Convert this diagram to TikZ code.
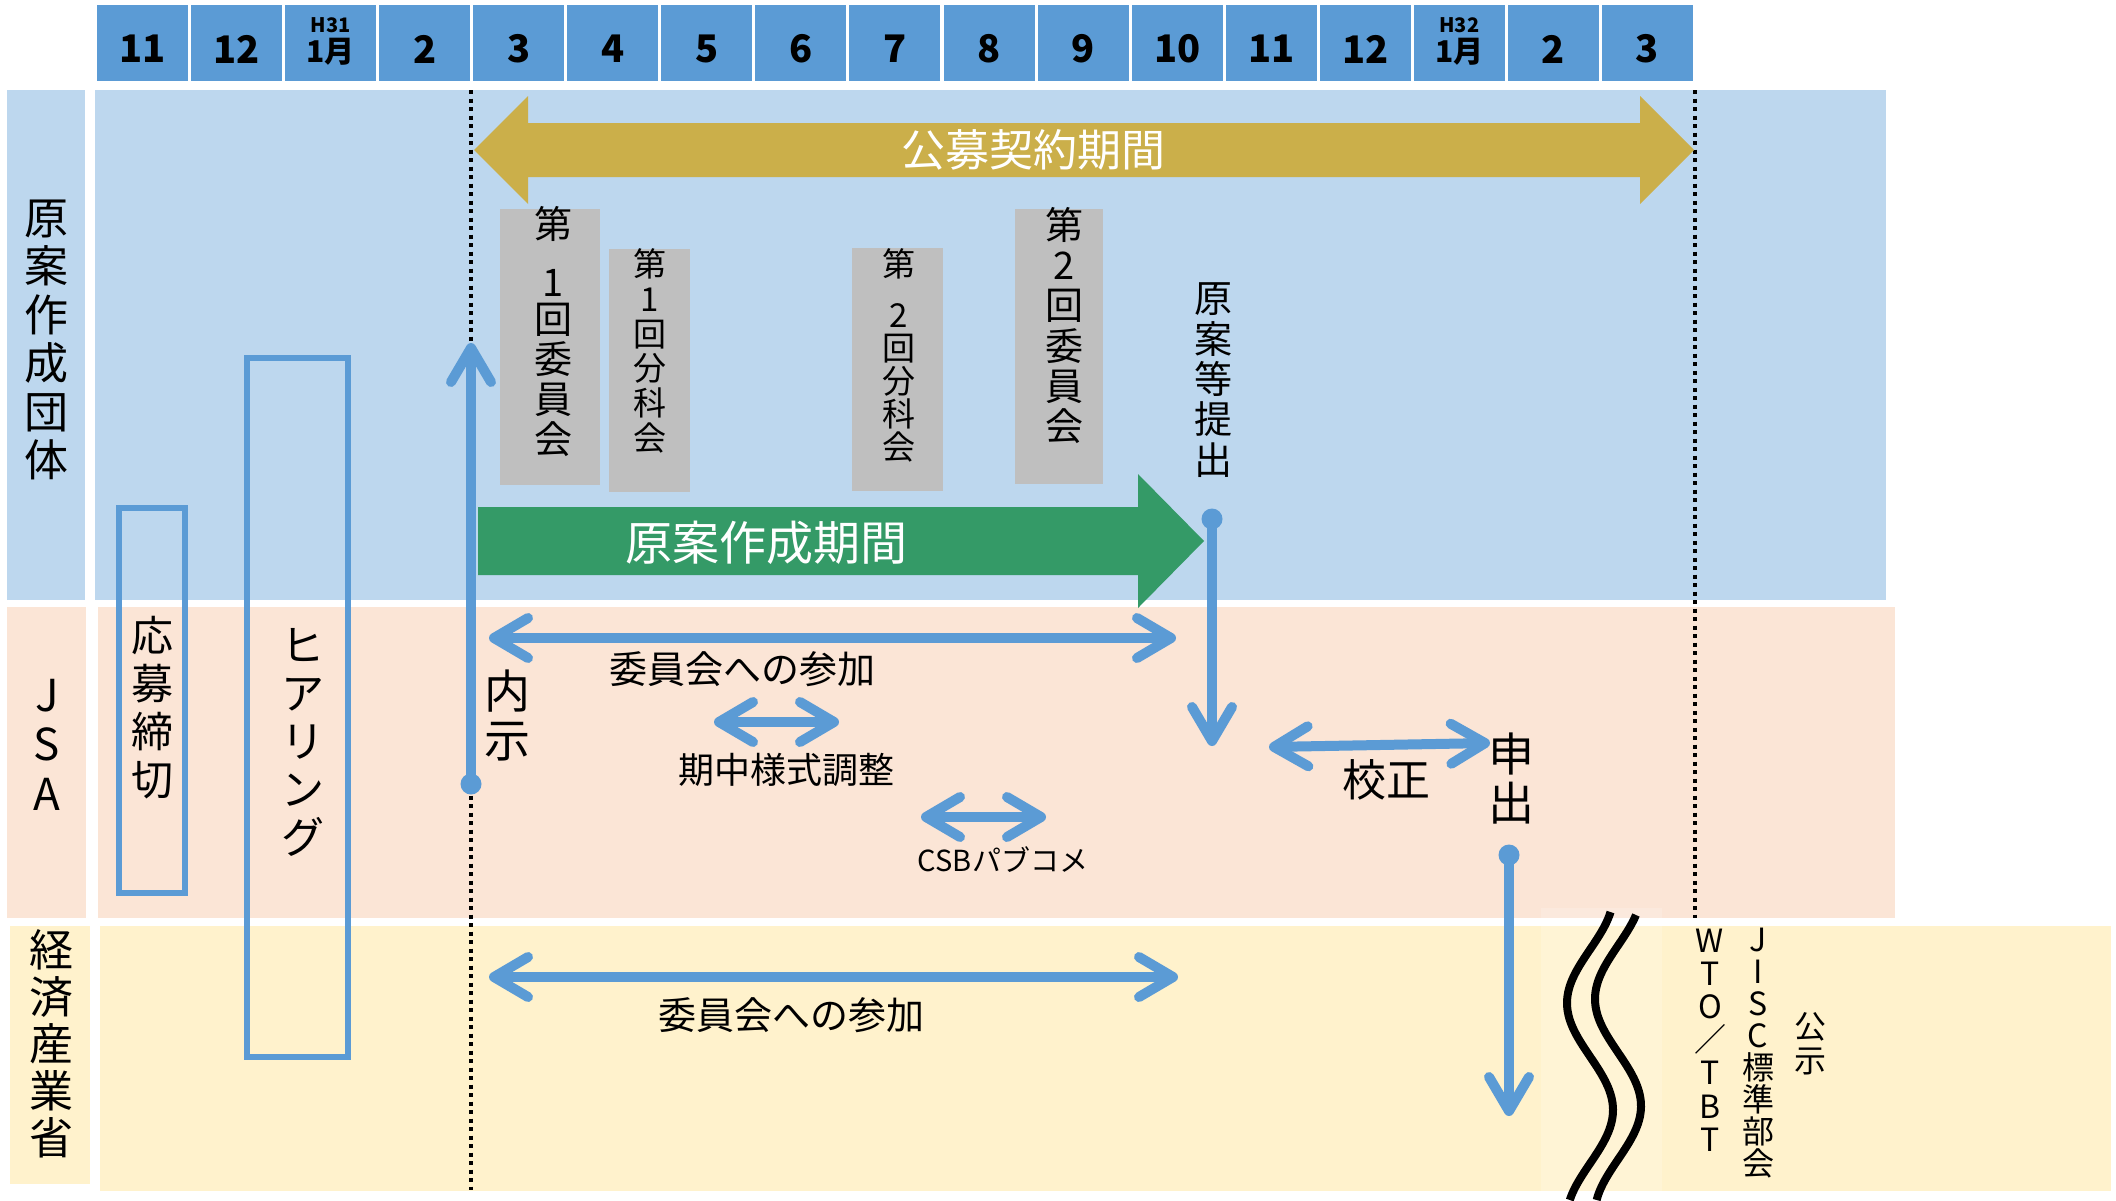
\documentclass[tikz,border=0pt]{standalone}
\usepackage{fontspec}
\setmainfont{Noto Sans CJK JP}
\usetikzlibrary{arrows.meta}
\definecolor{hdr}{HTML}{5B9BD5}
\definecolor{laneblue}{HTML}{BDD7EE}
\definecolor{lanepeach}{HTML}{FBE5D6}
\definecolor{laneyellow}{HTML}{FFF2CC}
\definecolor{boxgray}{HTML}{BFBFBF}
\definecolor{gold}{HTML}{CBAF4A}
\definecolor{grn}{HTML}{349A67}
\definecolor{lineblue}{HTML}{5B9BD5}
\begin{document}
\begin{tikzpicture}[x=1pt,y=-1pt,
  fs/.style 2 args={font=\fontsize{#1}{#2}\selectfont},
  vt/.style={align=center, inner sep=0pt, outer sep=0pt, text=black},
  lbl/.style={inner sep=0pt, outer sep=0pt, text=black},
  hdrcell/.style={fill=hdr, minimum width=91pt, minimum height=76pt, inner sep=0pt, rectangle},
  hdrnum/.style={font=\fontsize{38}{38}\selectfont\bfseries, inner sep=0pt, text=black},
  graybox/.style={fill=boxgray, inner sep=0pt, rectangle},
  bluebox/.style={draw=lineblue, line width=6pt, inner sep=0pt, rectangle},
  tipA/.tip={Straight Barb[length=34pt,width=40pt,round]},
  blueline/.style={draw=lineblue, line width=10pt},
  onearrow/.style={blueline, -tipA},
  twoarrow/.style={blueline, tipA-tipA},
  dotline/.style={black, line width=4pt, dash pattern=on 4pt off 4.5pt},
]
\useasboundingbox (0,0) rectangle (2116,1200);

% lanes
\fill[laneblue] (7,90) rectangle (85,600);
\fill[laneblue] (95,90) rectangle (1886,600);
\fill[lanepeach] (7,607) rectangle (86,918);
\fill[lanepeach] (98,607) rectangle (1895,918);
\fill[laneyellow] (10,926) rectangle (90,1184);
\fill[laneyellow] (100,926) rectangle (2111,1191);

% header
\foreach \i/\lab in {0/11,1/12,3/2,4/3,5/4,6/5,7/6,8/7,9/8,10/9,11/10,12/11,13/12,15/2,16/3} {
  \node[hdrcell] (m\i) at ({142.5+94.06*\i},43) {};
  \node[hdrnum] (t\i) at ([yshift=-6pt]m\i.center) {\lab};
}
\node[hdrcell] (m2) at ({142.5+94.06*2},43) {};
\node[lbl, font=\fontsize{20}{20}\selectfont\bfseries] (h2) at ([yshift=18pt]m2.center) {H31};
\node[lbl, font=\fontsize{30}{30}\selectfont\bfseries] (j2) at ([yshift=-9pt]m2.center) {1月};
\node[hdrcell] (m14) at ({142.5+94.06*14},43) {};
\node[lbl, font=\fontsize{20}{20}\selectfont\bfseries] (h14) at ([yshift=18pt]m14.center) {H32};
\node[lbl, font=\fontsize{30}{30}\selectfont\bfseries] (j14) at ([yshift=-9pt]m14.center) {1月};

% dotted lines
\draw[dotline] (471,90) -- (471,1190);
\draw[dotline] (1695,90) -- (1695,918);

% gold double arrow
\fill[gold] (474,150) -- (528,96) -- (528,123) -- (1640,123) -- (1640,96) -- (1694,150)
  -- (1640,204) -- (1640,177) -- (528,177) -- (528,204) -- cycle;
\node[lbl, fs={44}{44}, text=white] (kobo) at (1033,150) {公募契約期間};

% gray boxes
\node[graybox, minimum width=100pt, minimum height=276pt] (g1) at (550,347) {};
\node[vt, fs={38}{40}] (g1t) at (553,332) {第\\[18pt]1\\[-3pt]回\\委\\員\\会};
\node[graybox, minimum width=81pt, minimum height=243pt] (g2) at (649.5,370.5) {};
\node[vt, fs={33}{34.8}] (g2t) at (650,351) {第\\1\\回\\分\\科\\会};
\node[graybox, minimum width=91pt, minimum height=243pt] (g3) at (897.5,369.5) {};
\node[vt, fs={33}{33}] (g3t) at (899,355) {第\\[18pt]2\\回\\分\\科\\会};
\node[graybox, minimum width=88pt, minimum height=275pt] (g4) at (1059,346.5) {};
\node[vt, fs={38}{40.2}] (g4t) at (1064,325.5) {第\\2\\回\\委\\員\\会};

\node[vt, fs={38}{40.3}] (teishutsu) at (1213,380) {原\\案\\等\\提\\出};

% green arrow
\fill[grn] (478,507) -- (1138,507) -- (1138,474) -- (1204,541) -- (1138,608) -- (1138,575) -- (478,575) -- cycle;
\node[lbl, fs={47}{47}, text=white] (gensaku) at (766,543) {原案作成期間};

% blue outline boxes
\node[bluebox, minimum width=66pt, minimum height=385pt] (oubo) at (152,700.5) {};
\node[vt, fs={42}{48}] (oubot) at (152,708) {応\\募\\締\\切};
\node[bluebox, minimum width=101pt, minimum height=699pt] (hear) at (297.5,707.5) {};
\node[vt, fs={43}{48}] (heart) at (303,742) {ヒ\\ア\\リ\\ン\\グ};

% lane labels
\node[vt, fs={44}{48.4}] (lab1) at (46,340) {原\\案\\作\\成\\団\\体};
\node[vt, fs={44}{49.5}] (lab2) at (47,744.5) {J\\S\\A};
\node[vt, fs={44}{47}] (lab3) at (51,1044) {経\\済\\産\\業\\省};

% coordinates for connectors
\coordinate (naijiDot) at (471,784);
\coordinate (naijiTip) at (471,343);
\coordinate (teiDot) at (1212,519);
\coordinate (teiTip) at (1212,746);
\coordinate (mouDot) at (1509,855);
\coordinate (mouTip) at (1509,1116);
\coordinate (a1L) at (489,638);
\coordinate (a1R) at (1176,638);
\coordinate (a2L) at (714,722);
\coordinate (a2R) at (839,722);
\coordinate (a3L) at (921,817);
\coordinate (a3R) at (1046,817);
\coordinate (a4L) at (1269,747);
\coordinate (a4R) at (1490,743);
\coordinate (a5L) at (489,977);
\coordinate (a5R) at (1178,977);

% arrows
\draw[onearrow] (naijiDot) -- (naijiTip);
\fill[lineblue] (naijiDot) circle (10.5pt);
\draw[onearrow] (teiDot) -- (teiTip);
\fill[lineblue] (teiDot) circle (10.5pt);
\draw[onearrow] (mouDot) -- (mouTip);
\fill[lineblue] (mouDot) circle (10.5pt);
\draw[twoarrow] (a1L) -- (a1R);
\draw[twoarrow] (a2L) -- (a2R);
\draw[twoarrow] (a3L) -- (a3R);
\draw[twoarrow] (a4L) -- (a4R);
\draw[twoarrow] (a5L) -- (a5R);

% JSA / METI texts
\node[vt, fs={46}{49}] (naiji) at (507,715.5) {内\\示};
\node[lbl, fs={38}{38}] (sanka1) at (742,669) {委員会への参加};
\node[lbl, fs={36}{36}] (kichu) at (786,770) {期中様式調整};
\node[lbl, fs={29}{29}] (csb) at (1003,860) {CSBパブコメ};
\node[lbl, fs={44}{44}] (kousei) at (1386,780) {校正};
\node[vt, fs={46}{49}] (moushide) at (1511,778.5) {申\\出};
\node[lbl, fs={38}{38}] (sanka2) at (791,1015) {委員会への参加};

% wave break
\fill[white, opacity=0.18] (1541,908) rectangle (1662,1200);
\draw[black, line width=8pt] plot[variable=\v, domain=912:1200, samples=90] ({1590+23*cos(1.6822*(\v-1110))}, \v);
\draw[black, line width=8pt] plot[variable=\v, domain=915:1200, samples=90] ({1618+23*cos(1.6822*(\v-1106))}, \v);

\node[vt, fs={32}{33.2}] (wto) at (1710,1040) {W\\T\\O\\／\\T\\B\\T};
\node[vt, fs={32}{32}] (jisc) at (1758,1053) {J\\I\\S\\C\\標\\準\\部\\会};
\node[vt, fs={32}{34}] (koji) at (1810,1044) {公\\示};
\end{tikzpicture}
\end{document}
